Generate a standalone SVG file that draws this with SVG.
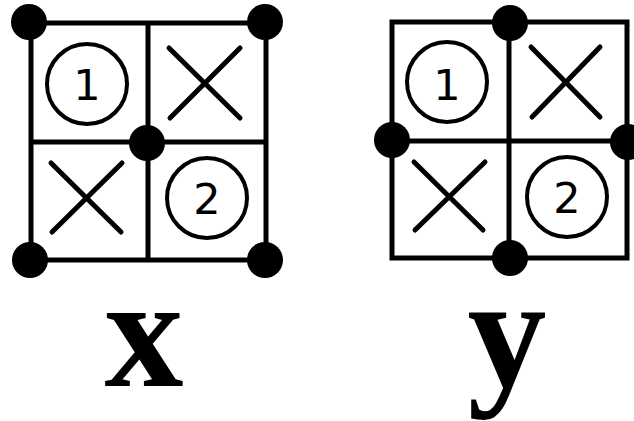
<svg xmlns="http://www.w3.org/2000/svg" width="634" height="421" viewBox="0 0 634 421">
<style>
.g{fill:none;stroke:#000;stroke-width:5}
.c{fill:none;stroke:#000;stroke-width:4}
.m{stroke:#000;stroke-width:5;stroke-linecap:round}
.d{fill:#000}
.n{font-family:"DejaVu Sans",sans-serif;font-size:43px;text-anchor:middle;fill:#000}
.l{font-family:"Liberation Serif",serif;font-weight:bold;font-size:158px;text-anchor:middle;fill:#000}
</style>
<rect width="634" height="421" fill="#fff"/>
<g id="grid-x">
<rect class="g" x="31" y="23" width="235" height="237"/>
<line class="g" x1="148" y1="23" x2="148" y2="260"/>
<line class="g" x1="31" y1="142" x2="266" y2="142"/>
<circle class="c" cx="87" cy="84" r="40"/>
<text class="n" x="87" y="100">1</text>
<line class="m" x1="169" y1="48" x2="240" y2="118"/>
<line class="m" x1="240" y1="48" x2="170" y2="118"/>
<line class="m" x1="51" y1="163" x2="121" y2="232"/>
<line class="m" x1="122" y1="163" x2="52" y2="232"/>
<circle class="c" cx="207" cy="198" r="40"/>
<text class="n" x="207" y="214">2</text>
<circle class="d" cx="29" cy="22" r="18"/>
<circle class="d" cx="265" cy="22" r="18"/>
<circle class="d" cx="30" cy="260" r="18"/>
<circle class="d" cx="265" cy="260" r="18"/>
<circle class="d" cx="147" cy="143" r="18"/>
</g>
<g id="grid-y">
<rect class="g" x="392" y="22" width="235" height="236"/>
<line class="g" x1="509" y1="22" x2="509" y2="258"/>
<line class="g" x1="392" y1="141" x2="627" y2="141"/>
<circle class="c" cx="447" cy="82" r="40"/>
<text class="n" x="447" y="100">1</text>
<line class="m" x1="531" y1="47" x2="600" y2="117"/>
<line class="m" x1="600" y1="47" x2="532" y2="117"/>
<line class="m" x1="414" y1="162" x2="483" y2="230"/>
<line class="m" x1="485" y1="162" x2="415" y2="230"/>
<circle class="c" cx="567" cy="197" r="40"/>
<text class="n" x="567" y="213">2</text>
<circle class="d" cx="510" cy="23" r="18"/>
<circle class="d" cx="392" cy="140" r="18"/>
<circle class="d" cx="628" cy="142" r="18"/>
<circle class="d" cx="510" cy="258" r="18"/>
</g>
<g id="labels">
<text class="l" x="144" y="386">x</text>
<text class="l" x="507" y="386">y</text>
</g>
</svg>
